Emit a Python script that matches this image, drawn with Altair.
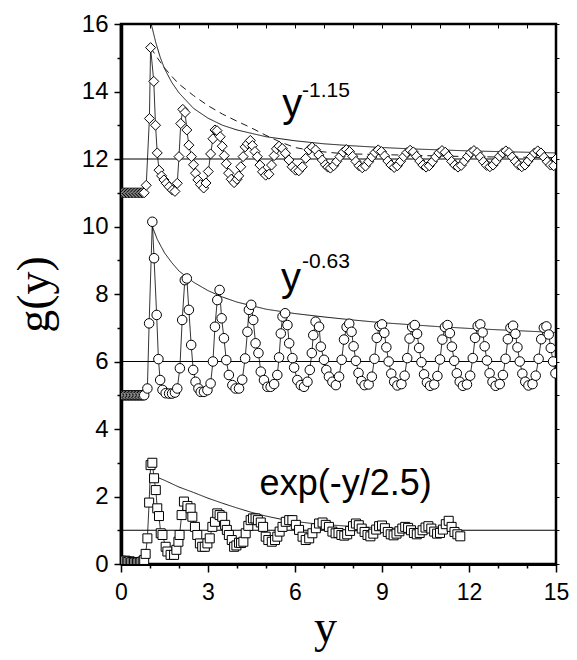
import altair as alt
import pandas as pd

# ---------------- data ----------------
# diamonds: g(y) shifted up by 11
D_X = [0.0, 0.05, 0.1, 0.15, 0.2, 0.25, 0.3, 0.35, 0.4, 0.45, 0.5, 0.55, 0.6, 0.65, 0.7, 0.75, 0.8,
       0.87, 0.98, 1.02, 1.13, 1.19, 1.25, 1.31, 1.40, 1.48, 1.56, 1.66, 1.77, 1.86, 1.94, 2.0,
       2.06, 2.13, 2.21, 2.27, 2.34, 2.43, 2.50, 2.57, 2.65, 2.74, 2.85, 2.93, 3.01, 3.09, 3.17,
       3.24, 3.31, 3.42, 3.49, 3.56, 3.63, 3.71, 3.80, 3.90, 4.00, 4.06, 4.13, 4.21, 4.28, 4.36,
       4.46, 4.53, 4.62, 4.70, 4.79, 4.88, 4.99, 5.10, 5.19, 5.28, 5.36, 5.45, 5.56, 5.67, 5.79,
       5.90, 6.02, 6.13, 6.25, 6.37, 6.48, 6.59, 6.71, 6.82, 6.94, 7.05, 7.13, 7.22,
       7.33, 7.44, 7.55, 7.66, 7.77, 7.88, 7.99, 8.10, 8.21, 8.32, 8.43, 8.54, 8.65, 8.76, 8.87,
       8.98, 9.09, 9.20, 9.31, 9.42, 9.53, 9.64, 9.75, 9.86, 9.97, 10.08, 10.19, 10.30, 10.41,
       10.52, 10.63, 10.74, 10.85, 10.96, 11.07, 11.18, 11.29, 11.40, 11.51, 11.62, 11.73, 11.84,
       11.95, 12.06, 12.17, 12.28, 12.39, 12.50, 12.61, 12.72, 12.83, 12.94, 13.05, 13.16, 13.27,
       13.38, 13.49, 13.60, 13.71, 13.82, 13.93, 14.04, 14.15, 14.26, 14.37, 14.48, 14.59, 14.70,
       14.81, 14.92, 15.0]
D_V = [11.0, 11.0, 11.0, 11.0, 11.0, 11.0, 11.0, 11.0, 11.0, 11.0, 11.0, 11.0, 11.0, 11.0, 11.0, 11.0, 11.0,
       11.22, 13.2, 15.3, 14.3, 13.0, 12.18, 11.67, 11.5, 11.38, 11.28, 11.18, 11.08, 11.04, 11.28, 12.07,
       13.05, 13.47, 13.38, 12.86, 12.41, 12.07, 11.83, 11.58, 11.38, 11.24, 11.14, 11.29, 11.63, 12.15, 12.6,
       12.86, 12.84, 12.66, 12.38, 12.1, 11.86, 11.58, 11.4, 11.3, 11.4, 11.5, 11.77, 12.07, 12.36, 12.45,
       12.55, 12.4, 12.22, 12.07, 11.82, 11.62, 11.52, 11.55, 11.82, 12.1, 12.3, 12.38, 12.31, 12.17, 11.97,
       11.77, 11.67, 11.65, 11.77, 12.02, 12.27, 12.35, 12.27, 12.12, 11.97, 11.83, 11.76, 11.73,
       11.8, 11.93, 12.07, 12.2, 12.28, 12.22, 12.08, 11.93, 11.8, 11.74, 11.79, 11.92, 12.06, 12.19, 12.27,
       12.22, 12.09, 11.94, 11.82, 11.75, 11.8, 11.93, 12.07, 12.19, 12.26, 12.21, 12.08, 11.94, 11.82,
       11.76, 11.8, 11.92, 12.06, 12.18, 12.25, 12.2, 12.08, 11.93, 11.82, 11.76, 11.81, 11.94,
       12.07, 12.19, 12.25, 12.19, 12.06, 11.92, 11.81, 11.77, 11.82, 11.94, 12.08, 12.18, 12.24,
       12.19, 12.06, 11.93, 11.82, 11.77, 11.82, 11.94, 12.07, 12.18, 12.24, 12.18, 12.05, 11.92,
       11.82, 11.8, 12.0]

# circles: g(y) shifted up by 5
C_X = [0.0, 0.05, 0.1, 0.15, 0.2, 0.25, 0.3, 0.35, 0.4, 0.45, 0.5, 0.55, 0.6, 0.65, 0.7, 0.75, 0.8,
       0.91, 0.97, 1.08, 1.14, 1.23, 1.29, 1.35, 1.43, 1.54, 1.66, 1.76, 1.86, 1.94, 2.03, 2.11,
       2.20, 2.27, 2.34, 2.42, 2.49, 2.57, 2.67, 2.75, 2.86, 2.98, 3.09, 3.17, 3.24, 3.32, 3.40,
       3.47, 3.55, 3.63, 3.72, 3.84, 3.95, 4.07, 4.18, 4.28, 4.36, 4.41, 4.49, 4.56, 4.64, 4.74,
       4.82, 4.93, 5.05, 5.16, 5.28, 5.39, 5.45, 5.51, 5.57, 5.66, 5.74, 5.80, 5.91, 5.97, 6.08,
       6.20, 6.31, 6.43, 6.51, 6.58, 6.63, 6.71, 6.83, 6.89, 7.00, 7.08, 7.17, 7.29, 7.41,
       7.52, 7.61, 7.69, 7.78, 7.87, 7.95, 8.02, 8.10, 8.19, 8.29, 8.40, 8.54, 8.65, 8.74, 8.82,
       8.91, 9.00, 9.08, 9.15, 9.23, 9.32, 9.42, 9.53, 9.67, 9.78, 9.87, 9.95, 10.04, 10.13, 10.21,
       10.28, 10.36, 10.45, 10.55, 10.66, 10.80, 10.91, 11.00, 11.08, 11.17, 11.26, 11.34, 11.41,
       11.49, 11.58, 11.68, 11.79, 11.93, 12.04, 12.13, 12.21, 12.30, 12.39, 12.47, 12.54, 12.62,
       12.71, 12.81, 12.92, 13.06, 13.17, 13.26, 13.34, 13.43, 13.52, 13.60, 13.67, 13.75, 13.84,
       13.94, 14.05, 14.19, 14.30, 14.40, 14.49, 14.58, 14.67, 14.75, 14.82, 14.90, 14.98]
C_V = [5.0, 5.0, 5.0, 5.0, 5.0, 5.0, 5.0, 5.0, 5.0, 5.0, 5.0, 5.0, 5.0, 5.0, 5.0, 5.0, 5.0,
       5.2, 7.13, 10.14, 9.06, 7.38, 6.07, 5.45, 5.16, 5.06, 5.05, 5.05, 5.08, 5.2, 5.8, 7.23,
       8.41, 8.46, 7.53, 6.49, 5.75, 5.4, 5.2, 5.1, 5.1, 5.15, 5.35, 6.0, 7.03, 7.82, 8.12,
       7.28, 6.69, 6.04, 5.6, 5.3, 5.2, 5.2, 5.46, 6.09, 6.88, 7.53, 7.68, 7.23, 6.54, 6.25,
       5.7, 5.45, 5.25, 5.25, 5.33, 5.6, 6.12, 6.83, 7.33, 7.43, 7.08, 6.54, 6.1, 5.82, 5.45,
       5.3, 5.25, 5.4, 5.75, 6.25, 6.78, 7.18, 7.03, 6.44, 6.05, 5.75, 5.55, 5.4, 5.3,
       5.55, 6.05, 6.65, 7.02, 7.12, 6.88, 6.45, 6.02, 5.66, 5.42, 5.3, 5.32, 5.55, 6.08, 6.7,
       7.05, 7.1, 6.85, 6.42, 6.0, 5.64, 5.4, 5.29, 5.33, 5.58, 6.1, 6.68, 7.02, 7.08, 6.82,
       6.4, 5.98, 5.62, 5.38, 5.28, 5.32, 5.57, 6.06, 6.65, 7.02, 7.08, 6.84, 6.44,
       6.02, 5.65, 5.4, 5.28, 5.32, 5.58, 6.1, 6.7, 7.05, 7.1, 6.86, 6.45, 6.03,
       5.65, 5.4, 5.28, 5.33, 5.6, 6.08, 6.66, 7.0, 7.06, 6.82, 6.42, 6.0, 5.64,
       5.4, 5.29, 5.33, 5.58, 6.08, 6.66, 7.0, 7.04, 6.8, 6.4, 6.0, 5.65]

# squares: g(y) itself
S_X = [0.0, 0.05, 0.1, 0.15, 0.2, 0.25, 0.3, 0.35, 0.4, 0.45, 0.5, 0.55, 0.6, 0.65, 0.7, 0.75, 0.8,
       0.85, 0.91, 0.97, 1.02, 1.08, 1.14, 1.2, 1.25, 1.31, 1.37, 1.43, 1.54, 1.6, 1.71, 1.83,
       1.91, 1.98, 2.02, 2.09, 2.17, 2.29, 2.4, 2.46, 2.55, 2.63, 2.72, 2.8, 2.89, 2.98, 3.06,
       3.15, 3.24, 3.32, 3.4, 3.49, 3.59, 3.65, 3.72, 3.82, 3.9, 3.98, 4.07, 4.14, 4.22, 4.3,
       4.39, 4.47, 4.55, 4.64, 4.72, 4.82, 4.9, 4.99, 5.08, 5.2, 5.31, 5.39, 5.47, 5.57, 5.68,
       5.8, 5.91, 6.03, 6.14, 6.26, 6.37, 6.49, 6.6, 6.72, 6.83, 6.95, 7.06, 7.17, 7.29, 7.4,
       7.5, 7.6, 7.7, 7.8, 7.9, 8.0, 8.1, 8.2, 8.3, 8.4, 8.5, 8.6, 8.7, 8.8, 8.9, 9.0, 9.1,
       9.2, 9.3, 9.4, 9.5, 9.6, 9.7, 9.8, 9.9, 10.0, 10.1, 10.2, 10.3, 10.4, 10.5, 10.6, 10.7,
       10.8, 10.9, 11.0, 11.1, 11.2, 11.3, 11.4, 11.5, 11.6, 11.7]
S_V = [0.1, 0.09, 0.08, 0.1, 0.07, 0.06, 0.08, 0.05, 0.06, 0.04, 0.05, 0.03, 0.05, 0.04, 0.06, 0.08, 0.12,
       0.3, 0.76, 1.82, 2.93, 3.0, 2.54, 2.19, 1.65, 1.42, 0.91, 0.86, 0.51, 0.37, 0.27, 0.27,
       0.42, 0.66, 0.86, 1.45, 1.85, 1.72, 1.65, 1.4, 1.1, 0.86, 0.61, 0.51, 0.51, 0.61, 0.76,
       1.1, 1.25, 1.5, 1.45, 1.4, 1.16, 1.01, 0.86, 0.71, 0.51, 0.55, 0.63, 0.62, 0.66, 0.91,
       1.13, 1.3, 1.35, 1.35, 1.3, 1.23, 1.1, 0.81, 0.71, 0.66, 0.71, 0.81, 0.96, 1.1, 1.25,
       1.3, 1.3, 1.16, 1.01, 0.81, 0.71, 0.76, 0.91, 1.06, 1.2, 1.23, 1.16, 1.1, 0.96, 0.91,
       0.92, 0.86, 0.84, 0.88, 0.98, 1.12, 1.2, 1.15, 1.05, 0.95, 0.86, 0.82, 0.9, 1.02, 1.12, 1.14, 1.06,
       0.95, 0.88, 0.85, 0.9, 0.97, 1.05, 1.1, 1.07, 1.0, 0.92, 0.88, 0.92, 1.0, 1.08, 1.12, 1.05,
       0.96, 0.9, 0.92, 1.02, 1.18, 1.28, 1.1, 0.95, 0.88, 0.82]

# envelopes
E1_X = [1.04, 1.1, 1.2, 1.35, 1.5, 1.75, 2.0, 2.5, 3.0, 3.5, 4.0, 5.0, 6.0, 7.0, 8.0, 9.0, 10.0, 11.0, 12.0, 13.0, 14.0, 15.0]
E1_V = [16.0, 15.8, 15.45, 15.02, 14.68, 14.27, 13.96, 13.5, 13.21, 13.0, 12.86, 12.66, 12.54, 12.45, 12.39, 12.34, 12.3, 12.27, 12.24, 12.22, 12.2, 12.18]
E1D_X = [1.02, 1.25, 1.5, 1.75, 2.0, 2.5, 3.0, 3.5, 4.0, 4.5, 5.0, 5.5, 6.0, 6.5, 7.0, 7.5, 8.0, 9.0, 10.0, 11.0, 12.0, 13.0, 14.0, 15.0]
E1D_V = [15.3, 15.0, 14.7, 14.45, 14.22, 13.88, 13.58, 13.33, 13.12, 12.92, 12.7, 12.5, 12.34, 12.26, 12.21, 12.17, 12.15, 12.13, 12.11, 12.09, 12.07, 12.06, 12.05, 12.04]
E2_X = [1.08, 1.25, 1.5, 1.75, 2.0, 2.5, 3.0, 3.5, 4.0, 5.0, 6.0, 7.0, 8.0, 9.0, 10.0, 11.0, 12.0, 13.0, 14.0, 15.0]
E2_V = [10.0, 9.62, 9.22, 8.93, 8.68, 8.35, 8.1, 7.91, 7.76, 7.55, 7.42, 7.32, 7.23, 7.15, 7.09, 7.03, 6.98, 6.94, 6.9, 6.86]
E3_X = [1.02, 1.25, 1.5, 1.75, 2.0, 2.5, 3.0, 3.5, 4.0, 4.5, 5.0, 5.5, 6.0, 6.5, 7.0, 7.5, 8.0, 9.0, 10.0, 11.0]
E3_V = [2.64, 2.57, 2.48, 2.38, 2.28, 2.12, 1.95, 1.8, 1.66, 1.53, 1.42, 1.33, 1.26, 1.21, 1.17, 1.14, 1.11, 1.07, 1.05, 1.03]

BASE_V = [12, 6, 1]

LABEL_TEXT = ["y", "-1.15", "y", "-0.63", "exp(-y/2.5)"]
LABEL_X = [5.56, 6.24, 5.52, 6.24, 4.78]
LABEL_Y = [13.23, 13.83, 8.09, 8.76, 2.03]
LABEL_SIZE = [40, 21, 40, 21, 36]

X_VALUES = list(range(0, 16))
Y_VALUES = list(range(0, 17))


def frame(xs, vs, **extra):
    n = min(len(xs), len(vs))
    d = pd.DataFrame({"x": xs[:n], "v": vs[:n]})
    for k, val in extra.items():
        d[k] = val
    d["i"] = range(n)
    return d


pts = pd.concat([
    frame(D_X, D_V, s="d"),
    frame(C_X, C_V, s="c"),
    frame(S_X, S_V, s="s"),
], ignore_index=True)

env = pd.concat([
    frame(E1_X, E1_V, c="a", dash="solid"),
    frame(E1D_X, E1D_V, c="b", dash="dashed"),
    frame(E2_X, E2_V, c="c", dash="solid"),
    frame(E3_X, E3_V, c="d", dash="solid"),
], ignore_index=True)

base = pd.DataFrame({"v": BASE_V})
labels = pd.DataFrame({"x": LABEL_X, "v": LABEL_Y, "t": LABEL_TEXT, "fs": LABEL_SIZE})

xs = alt.Scale(domain=[0, 15], nice=False, zero=False)
ys = alt.Scale(domain=[0, 16], nice=False, zero=False)
SANS = "Liberation Sans"
SERIF = "Liberation Serif"

x_main = alt.Axis(
    orient="bottom", values=X_VALUES,
    labelExpr="datum.value % 3 === 0 ? datum.label : ''",
    tickSize={"condition": {"test": "datum.value % 3 === 0", "value": 8}, "value": 4},
    tickColor="black", tickWidth=1.5, domain=True, domainColor="black", domainWidth=3,
    grid=False,
    labelFont=SANS, labelFontSize=23, labelColor="black", labelPadding=9,
    labelFlush=False, labelOverlap=False,
    title="y", titleFont=SERIF, titleFontSize=46, titleFontWeight="normal",
    titleColor="black", titleX=204, titleY=77, titleBaseline="alphabetic", titleAlign="center",
)
y_main = alt.Axis(
    orient="left", values=Y_VALUES,
    labelExpr="datum.value % 2 === 0 ? datum.label : ''",
    tickSize={"condition": {"test": "datum.value % 2 === 0", "value": 7}, "value": 4},
    tickColor="black", tickWidth=1.5, domain=True, domainColor="black", domainWidth=3.5,
    grid=False,
    labelFont=SANS, labelFontSize=24, labelColor="black", labelPadding=6,
    labelFlush=False, labelOverlap=False,
    title="g(y)", titleFont=SERIF, titleFontSize=46, titleFontWeight="normal",
    titleColor="black", titleAngle=270, titleX=-73, titleY=270,
    titleBaseline="alphabetic", titleAlign="center",
)
x_top = alt.Axis(orient="top", values=X_VALUES, labels=False, tickSize=4, offset=-4,
                 tickColor="black", tickWidth=1, domain=False, grid=False, title=None)
y_right = alt.Axis(orient="right", values=Y_VALUES, labels=False, tickSize=3,
                   tickColor="black", tickWidth=1, domain=False, grid=False, title=None)

hl = alt.Chart(base).mark_rule(color="black", strokeWidth=1).encode(
    y=alt.Y("v:Q", scale=ys, axis=None))

env_l = alt.Chart(env).mark_line(color="black", strokeWidth=0.9, clip=True).encode(
    x=alt.X("x:Q", scale=xs, axis=x_top),
    y=alt.Y("v:Q", scale=ys, axis=y_right),
    detail="c:N",
    order="i:Q",
    strokeDash=alt.StrokeDash("dash:N", scale=alt.Scale(domain=["solid", "dashed"], range=[[1, 0], [7, 5]]), legend=None),
)

ser_l = alt.Chart(pts).mark_line(color="black", strokeWidth=0.8, clip=True).encode(
    x=alt.X("x:Q", scale=xs, axis=None),
    y=alt.Y("v:Q", scale=ys, axis=None),
    detail="s:N",
    order="i:Q",
)

ser_p = alt.Chart(pts).mark_point(filled=True, fill="white", stroke="black", strokeWidth=1,
                                  opacity=1, clip=True).encode(
    x=alt.X("x:Q", scale=xs, axis=x_main),
    y=alt.Y("v:Q", scale=ys, axis=y_main),
    shape=alt.Shape("s:N", scale=alt.Scale(domain=["d", "c", "s"], range=["diamond", "circle", "square"]), legend=None),
    size=alt.Size("s:N", scale=alt.Scale(domain=["d", "c", "s"], range=[100, 81, 64]), legend=None),
)

txt = alt.Chart(labels).mark_text(align="left", baseline="alphabetic", font=SANS, color="black").encode(
    x=alt.X("x:Q", scale=xs, axis=None),
    y=alt.Y("v:Q", scale=ys, axis=None),
    text="t:N",
    size=alt.Size("fs:Q", scale=None, legend=None),
)

chart = alt.layer(hl, env_l, ser_l, ser_p, txt).resolve_axis(
    x="independent", y="independent"
).resolve_scale(shape="independent", size="independent").properties(
    width=435, height=540,
    padding={"left": 113, "top": 16, "right": 13, "bottom": 88},
    autosize=alt.AutoSizeParams(type="none"),
    background="white",
).configure_view(stroke="black", strokeWidth=2.5)

chart.save("out.html", embed_options={"renderer": "svg", "actions": False})
